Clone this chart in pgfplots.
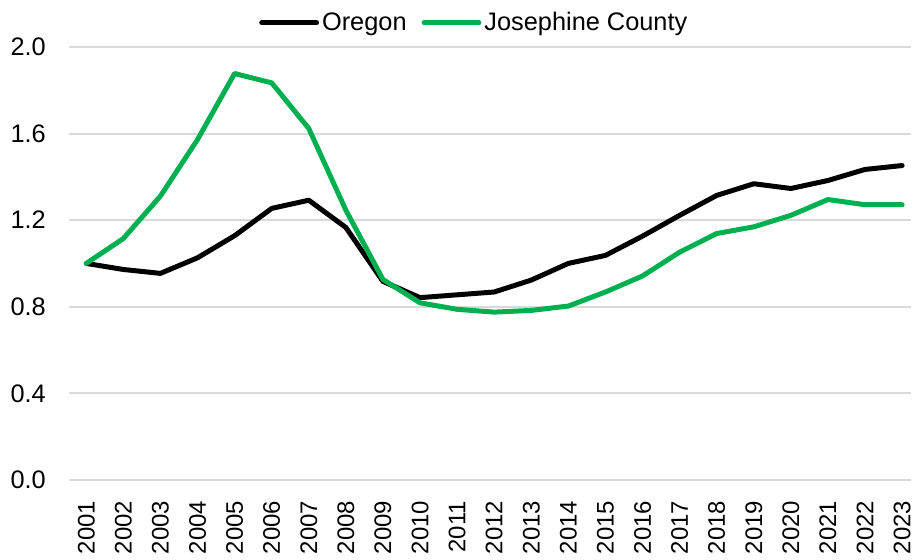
\documentclass[border=0pt]{standalone}
\usepackage{pgfplots}
\pgfplotsset{compat=1.18}
\usepackage{fontspec}
\setmainfont{Liberation Sans}
\definecolor{jcgreen}{HTML}{00B050}
\definecolor{gridgray}{HTML}{D9D9D9}
\newcommand{\cf}{\fontsize{12.7}{15}\selectfont}
\newcommand{\xf}{\fontsize{12}{14}\selectfont}
\begin{document}
\begin{tikzpicture}
\begin{axis}[
  scale only axis,
  width=422pt, height=217pt,
  xmin=-0.47, xmax=22.24,
  ymin=0, ymax=2.0,
  ytick={0,0.4,0.8,1.2,1.6,2.0},
  xtick={0,...,22},
  xticklabels={2001,2002,2003,2004,2005,2006,2007,2008,2009,2010,2011,2012,2013,2014,2015,2016,2017,2018,2019,2020,2021,2022,2023},
  /pgf/number format/assume math mode=true,
  yticklabel={\pgfmathprintnumber[fixed,fixed zerofill,precision=1]{\tick}},
  yticklabel style={font=\cf, anchor=east, xshift=-8pt},
  xticklabel style={font=\xf, rotate=90, anchor=east, inner ysep=0.5pt, xshift=-7pt},
  major tick length=0pt,
  axis line style={draw=none},
  ymajorgrids,
  grid style={gridgray, line width=1pt},
  clip=false,
  legend style={draw=none, fill=none, at={(0.482,1)}, anchor=south, yshift=5pt,
    legend columns=-1, font=\cf, inner sep=0pt,
    /tikz/every even column/.append style={column sep=6pt},
    nodes={inner sep=1.5pt}},
  legend image code/.code={\draw[#1, line width=2.5pt] (0pt,0pt) -- (27.5pt,0pt);},
]
\coordinate (sw) at (rel axis cs:0,0);
\coordinate (ne) at (rel axis cs:1,1);
\addplot[black, line width=2.5pt, line join=round, line cap=round] coordinates {
(0,1.000) (1,0.972) (2,0.954) (3,1.026) (4,1.128) (5,1.254) (6,1.292) (7,1.166)
(8,0.917) (9,0.842) (10,0.855) (11,0.868) (12,0.923) (13,1.000) (14,1.037) (15,1.126)
(16,1.222) (17,1.314) (18,1.368) (19,1.346) (20,1.383) (21,1.434) (22,1.452)};
\addlegendentry{Oregon}
\addplot[jcgreen, line width=2.5pt, line join=round, line cap=round] coordinates {
(0,1.000) (1,1.115) (2,1.311) (3,1.572) (4,1.877) (5,1.834) (6,1.623) (7,1.246)
(8,0.926) (9,0.818) (10,0.788) (11,0.775) (12,0.783) (13,0.803) (14,0.868) (15,0.942)
(16,1.052) (17,1.138) (18,1.169) (19,1.222) (20,1.295) (21,1.271) (22,1.271)};
\addlegendentry{Josephine County}
\end{axis}
\pgfresetboundingbox
\path ([shift={(-34.5pt,-40pt)}]sw) rectangle ([shift={(1pt,23.5pt)}]ne);
\end{tikzpicture}
\end{document}
